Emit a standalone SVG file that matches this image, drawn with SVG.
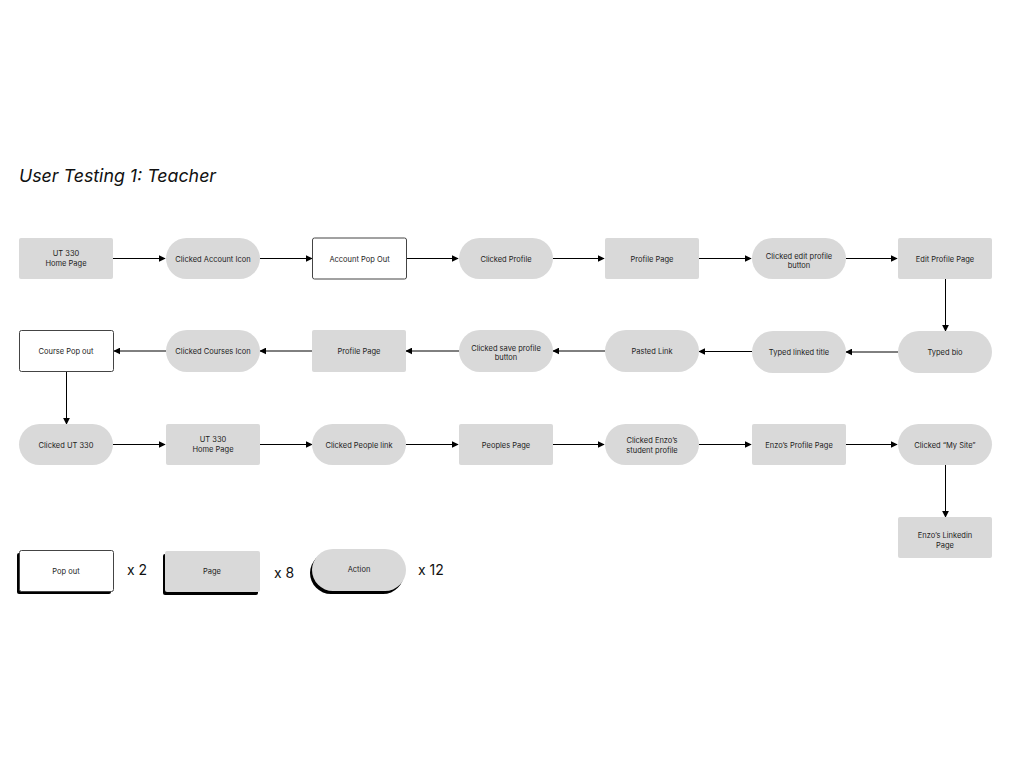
<svg xmlns="http://www.w3.org/2000/svg" width="1024" height="768" viewBox="0 0 1024 768">
<defs>
<marker id="ah" viewBox="0 0 10 10" refX="9" refY="5" markerWidth="7" markerHeight="7" markerUnits="userSpaceOnUse" orient="auto">
<path d="M0,0 L10,5 L0,10 z" fill="#000"/>
</marker>
<style>
.page{fill:#d9d9d9;}
.pop{fill:#fff;stroke:#444;stroke-width:1;}
.act{fill:#d9d9d9;}
.t{font-family:Inter,"Liberation Sans",sans-serif;font-size:7.5px;fill:#222;text-anchor:middle;}
.c{stroke:#000;stroke-width:1;fill:none;marker-end:url(#ah);}
.cnt{font-family:Inter,"Liberation Sans",sans-serif;font-size:14px;fill:#111;}
.shadow{fill:#000;}
</style>
</defs>
<rect width="1024" height="768" fill="#fff"/>
<text x="19" y="182" font-family="Inter,'Liberation Sans',sans-serif" font-style="italic" font-size="17.8" fill="#111">User Testing 1: Teacher</text>

<g id="connectors">
<line class="c" x1="113" y1="258.5" x2="165" y2="258.5"/>
<line class="c" x1="260" y1="258.5" x2="312" y2="258.5"/>
<line class="c" x1="406" y1="258.5" x2="458" y2="258.5"/>
<line class="c" x1="553" y1="258.5" x2="604" y2="258.5"/>
<line class="c" x1="699" y1="258.5" x2="751" y2="258.5"/>
<line class="c" x1="846" y1="258.5" x2="897" y2="258.5"/>
<line class="c" x1="945.5" y1="279" x2="945.5" y2="331"/>
<line class="c" x1="898" y1="352" x2="846" y2="352"/>
<line class="c" x1="752" y1="351.5" x2="699" y2="351.5"/>
<line class="c" x1="605" y1="351" x2="553" y2="351"/>
<line class="c" x1="459" y1="351" x2="406" y2="351"/>
<line class="c" x1="312" y1="351" x2="260" y2="351"/>
<line class="c" x1="166" y1="351" x2="114" y2="351"/>
<line class="c" x1="66.5" y1="371" x2="66.5" y2="424"/>
<line class="c" x1="113" y1="444.5" x2="165" y2="444.5"/>
<line class="c" x1="260" y1="444.5" x2="312" y2="444.5"/>
<line class="c" x1="406" y1="444.5" x2="458" y2="444.5"/>
<line class="c" x1="553" y1="444.5" x2="604" y2="444.5"/>
<line class="c" x1="699" y1="444.5" x2="751" y2="444.5"/>
<line class="c" x1="846" y1="444.5" x2="897" y2="444.5"/>
<line class="c" x1="945.5" y1="465" x2="945.5" y2="517"/>
</g>

<g id="n1"><rect class="page" x="19" y="238" width="94" height="41" rx="2"/><text class="t" x="66" y="256">UT 330</text><text class="t" x="66" y="266">Home Page</text></g>
<g id="n2"><rect class="act" x="166" y="238" width="94" height="41" rx="20.5"/><text class="t" x="213" y="261.5">Clicked Account Icon</text></g>
<g id="n3"><rect class="pop" x="312.5" y="238" width="94" height="41" rx="2"/><text class="t" x="359.5" y="261.5">Account Pop Out</text></g>
<g id="n4"><rect class="act" x="459" y="238" width="94" height="41" rx="20.5"/><text class="t" x="506" y="261.5">Clicked Profile</text></g>
<g id="n5"><rect class="page" x="605" y="238" width="94" height="41" rx="2"/><text class="t" x="652" y="261.5">Profile Page</text></g>
<g id="n6"><rect class="act" x="752" y="238" width="94" height="41" rx="20.5"/><text class="t" x="799" y="258.5">Clicked edit profile</text><text class="t" x="799" y="268">button</text></g>
<g id="n7"><rect class="page" x="898" y="238" width="94" height="41" rx="2"/><text class="t" x="945" y="261.5">Edit Profile Page</text></g>

<g id="n8"><rect class="act" x="898" y="331" width="94" height="42" rx="21"/><text class="t" x="945" y="355">Typed bio</text></g>
<g id="n9"><rect class="act" x="752" y="331" width="94" height="42" rx="21"/><text class="t" x="799" y="355">Typed linked title</text></g>
<g id="n10"><rect class="act" x="605" y="330" width="94" height="42" rx="21"/><text class="t" x="652" y="353.5">Pasted Link</text></g>
<g id="n11"><rect class="act" x="459" y="330" width="94" height="42" rx="21"/><text class="t" x="506" y="350.5">Clicked save profile</text><text class="t" x="506" y="360">button</text></g>
<g id="n12"><rect class="page" x="312" y="330" width="94" height="42" rx="2"/><text class="t" x="359" y="353.5">Profile Page</text></g>
<g id="n13"><rect class="act" x="166" y="330" width="94" height="42" rx="21"/><text class="t" x="213" y="353.5">Clicked Courses Icon</text></g>
<g id="n14"><rect class="pop" x="19.5" y="330.5" width="94" height="41" rx="2"/><text class="t" x="66" y="353.5">Course Pop out</text></g>

<g id="n15"><rect class="act" x="19" y="424" width="94" height="41" rx="20.5"/><text class="t" x="66" y="447.5">Clicked UT 330</text></g>
<g id="n16"><rect class="page" x="166" y="424" width="94" height="41" rx="2"/><text class="t" x="213" y="442">UT 330</text><text class="t" x="213" y="452">Home Page</text></g>
<g id="n17"><rect class="act" x="312" y="424" width="94" height="41" rx="20.5"/><text class="t" x="359" y="447.5">Clicked People link</text></g>
<g id="n18"><rect class="page" x="459" y="424" width="94" height="41" rx="2"/><text class="t" x="506" y="447.5">Peoples Page</text></g>
<g id="n19"><rect class="act" x="605" y="424" width="94" height="41" rx="20.5"/><text class="t" x="652" y="443">Clicked Enzo’s</text><text class="t" x="652" y="452.5">student profile</text></g>
<g id="n20"><rect class="page" x="752" y="424" width="94" height="41" rx="2"/><text class="t" x="799" y="447.5">Enzo’s Profile Page</text></g>
<g id="n21"><rect class="act" x="898" y="424" width="94" height="41" rx="20.5"/><text class="t" x="945" y="447.5">Clicked “My Site”</text></g>
<g id="n22"><rect class="page" x="898" y="517" width="94" height="41" rx="2"/><text class="t" x="945" y="537.5">Enzo’s Linkedin</text><text class="t" x="945" y="547.5">Page</text></g>

<g id="legend-popout">
<rect class="shadow" x="17" y="553" width="94" height="41" rx="2"/>
<rect class="pop" x="19.5" y="550.5" width="94" height="41" rx="2"/>
<text class="t" x="66" y="574">Pop out</text>
<text class="cnt" x="127" y="575">x 2</text>
</g>
<g id="legend-page">
<rect class="shadow" x="163" y="554" width="95" height="41" rx="2"/>
<rect class="page" x="165" y="551" width="95" height="41" rx="2"/>
<text class="t" x="212" y="574">Page</text>
<text class="cnt" x="274" y="578">x 8</text>
</g>
<g id="legend-action">
<rect class="shadow" x="310" y="552" width="94" height="42" rx="21"/>
<rect class="act" x="312" y="549" width="94" height="42" rx="21"/>
<text class="t" x="359" y="572">Action</text>
<text class="cnt" x="418" y="575">x 12</text>
</g>
</svg>
